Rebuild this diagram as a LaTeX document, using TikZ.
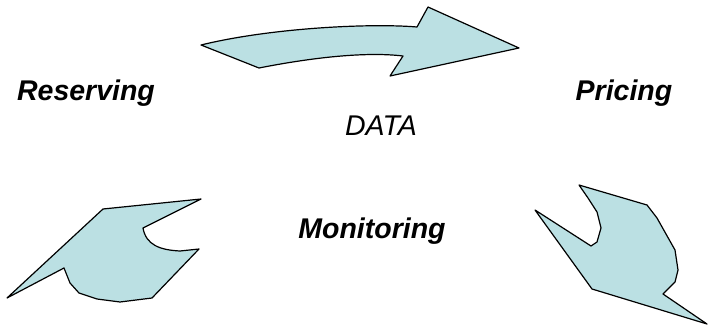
\documentclass[tikz,border=0pt]{standalone}
\usepackage{fontspec}
\setmainfont{Liberation Sans}
\definecolor{shapefill}{HTML}{BBE0E3}
\tikzset{
  blob/.style={draw=black, fill=shapefill, line width=1.2pt, line join=round},
  lbl/.style={font=\fontsize{28.5}{32}\selectfont\bfseries\itshape, inner sep=0pt, anchor=base},
  lblplain/.style={font=\fontsize{28.5}{32}\selectfont\itshape, inner sep=0pt, anchor=base}
}
\begin{document}
\begin{tikzpicture}[x=1pt,y=-1pt]
\useasboundingbox (0,0) rectangle (709,329);
% top arrow
\path[blob] (201,45) -- (259,68) .. controls (320,56) and (370,52) .. (403,56) -- (390,76) -- (519,48) -- (428,7) -- (417,27) .. controls (370,23) and (270,28) .. (201,45) -- cycle;
% left shape
\path[blob] (7,298) -- (103,209) -- (201,199) -- (143,228) .. controls (146,245) and (160,250) .. (180,251) -- (199,249) -- (152,298) -- (120,302) -- (97,299) -- (79,293) -- (70,283) -- (64,268) -- cycle;
% right shape
\path[blob] (579,185) -- (647,205) -- (657,218) -- (675,250) -- (678,270) -- (675,282) -- (663,294) -- (707,324) -- (592,289) -- (535,210) -- (591,246) -- (597,242) -- (601,228) -- (597,212) -- (588,198) -- cycle;
% labels
\node[lbl] (res) at (86,100) {Reserving};
\node[lbl] (pri) at (624,100) {Pricing};
\node[lblplain] (data) at (381,135) {DATA};
\node[lbl] (mon) at (372,238) {Monitoring};
\end{tikzpicture}
\end{document}
